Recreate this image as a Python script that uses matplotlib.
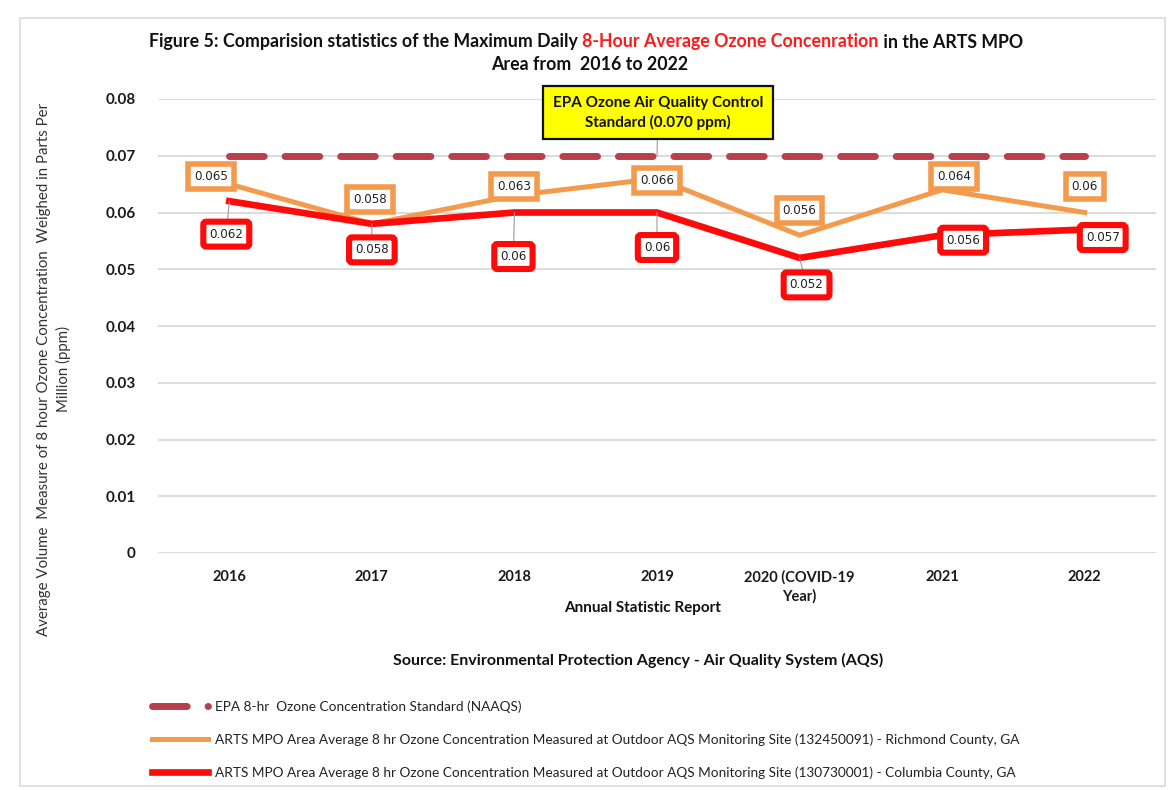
import matplotlib
matplotlib.use("Agg")
import matplotlib.pyplot as plt
from matplotlib.patches import Rectangle

plt.rcParams['font.family'] = ['Lato', 'DejaVu Sans']

# ---- data -------------------------------------------------------------
years = ["2016", "2017", "2018", "2019", "2020 (COVID-19\nYear)", "2021", "2022"]
epa_standard = [0.070, 0.070, 0.070, 0.070, 0.070, 0.070, 0.070]
richmond = [0.065, 0.058, 0.063, 0.066, 0.056, 0.064, 0.06]
columbia = [0.062, 0.058, 0.06, 0.06, 0.052, 0.056, 0.057]
richmond_text = ["0.065", "0.058", "0.063", "0.066", "0.056", "0.064", "0.06"]
columbia_text = ["0.062", "0.058", "0.06", "0.06", "0.052", "0.056", "0.057"]
yticks = [0, 0.01, 0.02, 0.03, 0.04, 0.05, 0.06, 0.07, 0.08]
ytick_labels = ["0", "0.01", "0.02", "0.03", "0.04", "0.05", "0.06", "0.07", "0.08"]

legend_labels = [
    "EPA 8-hr  Ozone Concentration Standard (NAAQS)",
    "ARTS MPO Area Average 8 hr Ozone Concentration Measured at Outdoor AQS Monitoring Site (132450091) - Richmond County, GA",
    "ARTS MPO Area Average 8 hr Ozone Concentration Measured at Outdoor AQS Monitoring Site (130730001) - Columbia County, GA",
]

# label offsets in pixels (dx, dy) relative to each point
richmond_off = [(-18, 8), (-2, 24), (0, 9), (0, -2), (0, 25), (12, 13), (0, 26)]
columbia_off = [(-3, -33), (0, -26), (-1, -44), (0, -35), (7, -27), (21, -5), (18, -8)]
columbia_leader = [True, True, True, True, True, False, False]

C_EPA = "#B8404C"
C_ORANGE = "#F39A4C"
C_RED = "#FF0A0A"
GRID = "#D6D6D6"

W, H = 1171, 790
fig = plt.figure(figsize=(W / 100, H / 100), dpi=100)
fig.patch.set_facecolor("white")
fig.patches.append(Rectangle((20 / W, 4 / H), 1 - 26 / W, 1 - 22 / H,
                             transform=fig.transFigure, fill=False,
                             ec="#DADADA", lw=1.2))

ax = fig.add_axes([158 / W, 1 - 553 / H, (1156 - 158) / W, (553 - 99) / H])
x = list(range(len(years)))

ax.set_ylim(0, 0.08)
ax.set_xlim(-0.5, len(years) - 0.5)
ax.set_yticks(yticks)
ax.set_yticklabels(ytick_labels, fontsize=11, fontweight="bold", color="#1a1a1a")
ax.set_xticks(x)
ax.set_xticklabels(years, fontsize=10.5, fontweight="bold", color="#1a1a1a",
                   linespacing=1.45, va="top")
ax.tick_params(axis="both", length=0)
ax.tick_params(axis="y", pad=16)
ax.tick_params(axis="x", pad=12)
for s in ax.spines.values():
    s.set_visible(False)
ax.grid(axis="y", color=GRID, lw=1.2)
ax.set_axisbelow(True)

l_epa, = ax.plot(x, epa_standard, color=C_EPA, lw=5.0, solid_capstyle="round",
                 dash_capstyle="round", dashes=(5.0, 3.0), zorder=3)
l_or, = ax.plot(x, richmond, color=C_ORANGE, lw=3.6, zorder=4)
l_red, = ax.plot(x, columbia, color=C_RED, lw=4.8, zorder=5)

for i, (v, t, (dx, dy)) in enumerate(zip(richmond, richmond_text, richmond_off)):
    ax.annotate(t, xy=(i, v), xytext=(dx, dy), textcoords="offset pixels",
                ha="center", va="center", fontsize=8.6, color="#222222",
                family="DejaVu Sans", zorder=6,
                bbox=dict(boxstyle="square,pad=0.5", fc="white", ec=C_ORANGE, lw=4.0))

for i, (v, t, (dx, dy), ld) in enumerate(zip(columbia, columbia_text, columbia_off,
                                             columbia_leader)):
    ap = dict(arrowstyle="-", color="#9a9a9a", lw=0.8, shrinkA=0, shrinkB=0) if ld else None
    ax.annotate(t, xy=(i, v), xytext=(dx, dy), textcoords="offset pixels",
                ha="center", va="center", fontsize=8.6, color="#222222",
                family="DejaVu Sans", zorder=7, arrowprops=ap,
                bbox=dict(boxstyle="round,pad=0.5,rounding_size=0.25",
                          fc="white", ec=C_RED, lw=4.4))

# callout for the standard line
ax.annotate("EPA Ozone Air Quality Control\nStandard (0.070 ppm)",
            xy=(3, epa_standard[3]), xytext=(1, 43), textcoords="offset pixels",
            ha="center", va="center", fontsize=11, fontweight="bold",
            linespacing=1.4, color="#111111", zorder=8,
            arrowprops=dict(arrowstyle="-", color="#9a9a9a", lw=0.8,
                            shrinkA=0, shrinkB=0),
            bbox=dict(boxstyle="square,pad=0.62", fc="#FFFF00", ec="#111111", lw=1.6))

ax.set_xlabel("Annual Statistic Report", fontsize=11, fontweight="bold",
              color="#111111")
ax.xaxis.set_label_coords(0.485, (553 - 608) / 454)
ax.xaxis.label.set_va("center")
ax.set_ylabel("Average Volume  Measure of 8 hour Ozone Concentration  Weighed in Parts Per\nMillion (ppm)",
              fontsize=10.8, color="#333333", linespacing=1.45)
ax.yaxis.set_label_coords((54 - 158) / 998, 0.405)
ax.yaxis.label.set_va("center")

# title with a highlighted phrase
renderer = fig.canvas.get_renderer()
parts = [("Figure 5: Comparision statistics of the Maximum Daily ", "#111111"),
         ("8-Hour Average Ozone Concenration", "#FF1A1A"),
         (" in the ARTS MPO", "#111111")]
tkw = dict(fontsize=12.8, fontweight="bold", va="center", ha="left")
texts = [fig.text(0, 1 - 42 / H, p, color=c, **tkw) for p, c in parts]
widths = [t.get_window_extent(renderer).width for t in texts]
xpos = 586 - sum(widths) / 2
for t, w in zip(texts, widths):
    t.set_x(xpos / W)
    xpos += w
fig.text(590 / W, 1 - 64 / H, "Area from  2016 to 2022", color="#111111",
         fontsize=12.8, fontweight="bold", ha="center", va="center")

fig.text(638 / W, 1 - 660 / H,
         "Source: Environmental Protection Agency - Air Quality System (AQS)",
         fontsize=11.5, fontweight="bold", color="#111111", ha="center", va="center")

fig.legend([l_epa, l_or, l_red], legend_labels, loc="upper left",
           bbox_to_anchor=(140 / W, 1 - 688 / H), frameon=False, fontsize=9.8,
           handlelength=4.1, handletextpad=0.5, labelspacing=1.5,
           labelcolor="#222222")

fig.savefig("out.png", dpi=100)
